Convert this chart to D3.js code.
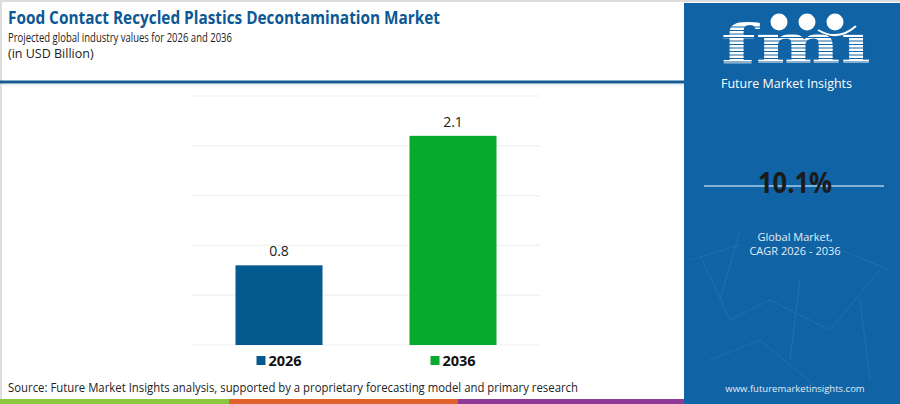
<!DOCTYPE html>
<html>
<head>
<meta charset="utf-8">
<script src="https://cdn.jsdelivr.net/npm/d3@7"></script>
<style>
  body { margin: 0; background: #fff; }
  svg { display: block; font-family: "Open Sans", Inter, sans-serif; }
</style>
</head>
<body>
<svg id="chart"></svg>
<script>
// chart data
const years = ["2026", "2036"];
const values = [0.8, 2.1];
const barColors = ["#035a8f", "#07aa2c"];
const gridTicks = [0, 0.5, 1, 1.5, 2, 2.5];
const cagr = "10.1%";

const width = 900, height = 404;
const svg = d3.select("#chart")
    .attr("width", width)
    .attr("height", height);

// page frame
svg.append("rect").attr("width", width).attr("height", height).attr("fill", "#fff");
svg.append("line").attr("x1", 0).attr("x2", width).attr("y1", 1).attr("y2", 1)
    .attr("stroke", "#dddddd").attr("stroke-width", 2);
svg.append("line").attr("x1", 1).attr("x2", 1).attr("y1", 0).attr("y2", height)
    .attr("stroke", "#dddddd").attr("stroke-width", 2);

// header
svg.append("text").attr("x", 8).attr("y", 23.5)
    .attr("font-size", 17.5).attr("font-weight", 700).attr("fill", "#0c5894")
    .attr("textLength", 432).attr("lengthAdjust", "spacingAndGlyphs")
    .text("Food Contact Recycled Plastics Decontamination Market");
svg.append("text").attr("x", 8).attr("y", 41.5)
    .attr("font-size", 12).attr("fill", "#222")
    .attr("textLength", 224).attr("lengthAdjust", "spacingAndGlyphs")
    .text("Projected global industry values for 2026 and 2036");
svg.append("text").attr("x", 8).attr("y", 58)
    .attr("font-size", 12.5).attr("fill", "#222")
    .text("(in USD Billion)");
svg.append("line").attr("x1", 0).attr("x2", 686).attr("y1", 82).attr("y2", 82)
    .attr("stroke", "#155a93").attr("stroke-width", 3);
svg.append("line").attr("x1", 0).attr("x2", 686).attr("y1", 85).attr("y2", 85)
    .attr("stroke", "#d6e6f3").attr("stroke-width", 1);

// scales
const x = d3.scalePoint().domain(years).range([192, 540]).padding(0.5);
const y = d3.scaleLinear().domain([0, 2.5]).range([345, 96]);

// grid
svg.append("g").selectAll("line").data(gridTicks).join("line")
    .attr("x1", 192).attr("x2", 540)
    .attr("y1", d => y(d)).attr("y2", d => y(d))
    .attr("stroke", "#efefef").attr("stroke-width", 1.2);

// bars
const bw = 87;
svg.append("g").selectAll("rect").data(years).join("rect")
    .attr("x", d => x(d) - bw / 2)
    .attr("width", bw)
    .attr("y", (d, i) => y(values[i]))
    .attr("height", (d, i) => y(0) - y(values[i]))
    .attr("fill", (d, i) => barColors[i]);

// value labels
svg.append("g").selectAll("text").data(years).join("text")
    .attr("x", d => x(d))
    .attr("y", (d, i) => y(values[i]) - 9)
    .attr("text-anchor", "middle")
    .attr("font-size", 14).attr("fill", "#222")
    .text((d, i) => values[i].toFixed(1));

// legend under bars
const leg = svg.append("g").selectAll("g").data(years).join("g")
    .attr("transform", d => `translate(${x(d) - 22.5},363)`);
leg.append("rect").attr("x", 0).attr("y", -7).attr("width", 9).attr("height", 9)
    .attr("fill", (d, i) => barColors[i]);
leg.append("text").attr("x", 12).attr("y", 2.5)
    .attr("font-size", 14.5).attr("font-weight", 700).attr("fill", "#111")
    .text(d => d);

// source
svg.append("text").attr("x", 8).attr("y", 392)
    .attr("font-size", 12).attr("fill", "#222")
    .attr("textLength", 570).attr("lengthAdjust", "spacingAndGlyphs")
    .text("Source: Future Market Insights analysis, supported by a proprietary forecasting model and primary research");

// colour strip at the bottom
const strip = ["#8dc63f", "#e2622b", "#8e3b97"];
svg.append("g").selectAll("rect").data(strip).join("rect")
    .attr("x", (d, i) => i * 229)
    .attr("y", 399).attr("width", 229).attr("height", 5)
    .attr("fill", d => d);

// right panel
const px = 684;
svg.append("rect").attr("x", px).attr("y", 3).attr("width", width - px).attr("height", height - 3)
    .attr("fill", "#1063a4");

// faint network lines
const net = [[700,255,730,320],[730,320,770,300],[770,300,830,330],[830,330,880,270],
  [740,230,720,300],[800,280,790,360],[860,300,870,380],[710,360,760,340],[760,340,820,390],
  [690,260,740,245],[840,250,890,270]];
svg.append("g").selectAll("line").data(net).join("line")
    .attr("x1", d => d[0]).attr("y1", d => d[1]).attr("x2", d => d[2]).attr("y2", d => d[3])
    .attr("stroke", "#4d8fc4").attr("stroke-width", 0.6).attr("opacity", 0.5);

// logo
const logo = svg.append("g");
logo.append("text").attr("x", 796).attr("y", 63).attr("text-anchor", "middle")
    .attr("font-family", "'DejaVu Serif', serif").attr("font-weight", 700)
    .attr("font-size", 54).attr("fill", "#fff")
    .attr("textLength", 150).attr("lengthAdjust", "spacingAndGlyphs")
    .text("fmı");
// stripe effect on logo
logo.append("g").selectAll("line").data(d3.range(27, 66, 3.5)).join("line")
    .attr("x1", 720).attr("x2", 875).attr("y1", d => d).attr("y2", d => d)
    .attr("stroke", "#1063a4").attr("stroke-width", 1);
logo.append("g").selectAll("circle").data([779, 807, 835]).join("circle")
    .attr("cx", d => d).attr("cy", 22).attr("r", 8.5).attr("fill", "#fff");
logo.append("path").attr("d", "M818,30 Q838,42 856,26")
    .attr("fill", "none").attr("stroke", "#fff").attr("stroke-width", 2);
svg.append("text").attr("x", 721).attr("y", 88)
    .attr("font-size", 12.5).attr("fill", "#fff")
    .attr("textLength", 131).attr("lengthAdjust", "spacingAndGlyphs")
    .text("Future Market Insights");

// CAGR
svg.append("line").attr("x1", 704).attr("x2", 884).attr("y1", 186).attr("y2", 186)
    .attr("stroke", "#a9cdea").attr("stroke-width", 1.5);
svg.append("text").attr("x", 795).attr("y", 193).attr("text-anchor", "middle")
    .attr("font-size", 28).attr("font-weight", 700).attr("fill", "#1a1a1a")
    .attr("textLength", 74).attr("lengthAdjust", "spacingAndGlyphs")
    .text(cagr);
svg.append("text").attr("x", 795).attr("y", 241).attr("text-anchor", "middle")
    .attr("font-size", 11).attr("fill", "#e3eef8")
    .text("Global Market,");
svg.append("text").attr("x", 795).attr("y", 255).attr("text-anchor", "middle")
    .attr("font-size", 11).attr("fill", "#e3eef8")
    .text("CAGR 2026 - 2036");
svg.append("text").attr("x", 795).attr("y", 392).attr("text-anchor", "middle")
    .attr("font-size", 9.5).attr("fill", "#e3eef8")
    .text("www.futuremarketinsights.com");
</script>
</body>
</html>
